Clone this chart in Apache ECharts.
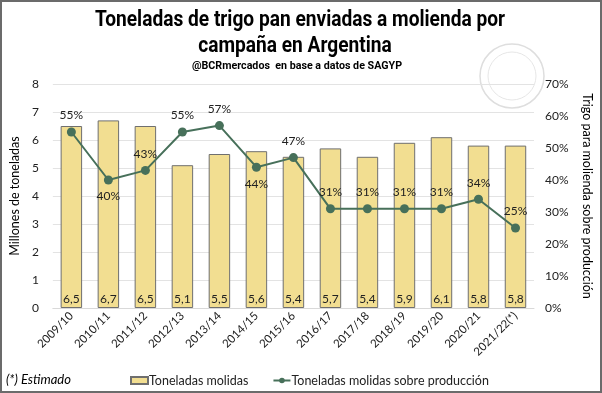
<!DOCTYPE html>
<html><head><meta charset="utf-8">
<script src="https://cdn.jsdelivr.net/npm/echarts@6/dist/echarts.min.js"></script>
<style>html,body{margin:0;padding:0;background:#fff}#c{width:602px;height:393px}</style>
</head><body><div id="c"></div>
<script>
const categories = ['2009/10','2010/11','2011/12','2012/13','2013/14','2014/15','2015/16','2016/17','2017/18','2018/19','2019/20','2020/21','2021/22(*)'];
const toneladas = [6.5,6.7,6.5,5.1,5.5,5.6,5.4,5.7,5.4,5.9,6.1,5.8,5.8];
const porcentaje = [55,40,43,55,57,44,47,31,31,31,31,34,25];
const labelBelow = [false,true,false,false,false,true,false,false,false,false,false,false,false];

const chart = echarts.init(document.getElementById('c'));
const font = 'Lato';
const tfont = 'Roboto';
chart.setOption({
  animation:false,
  graphic:[
    {type:'rect', shape:{x:1,y:1,width:600,height:391}, style:{fill:'none', stroke:'#6b6b6b', lineWidth:2}, z:100},
    {type:'circle', shape:{cx:512,cy:76,r:32}, style:{fill:'none', stroke:'#dedede', lineWidth:1.5}, z:-1},
    {type:'circle', shape:{cx:512,cy:76,r:24}, style:{fill:'none', stroke:'#e6e6e6', lineWidth:1}, z:-1},
    {type:'text', x:300, y:20, scaleX:0.87, style:{text:'Toneladas de trigo pan enviadas a molienda por', fontFamily:tfont, fontWeight:'bold', fontSize:22, fill:'#000', align:'center', verticalAlign:'middle'}},
    {type:'text', x:295, y:46, scaleX:0.87, style:{text:'campaña en Argentina', fontFamily:tfont, fontWeight:'bold', fontSize:22, fill:'#000', align:'center', verticalAlign:'middle'}},
    {type:'text', x:297, y:66, scaleX:0.93, style:{text:'@BCRmercados  en base a datos de SAGYP', fontFamily:tfont, fontWeight:'bold', fontSize:11.5, fill:'#000', align:'center', verticalAlign:'middle'}},
    {type:'text', x:6, y:380, style:{text:'(*) Estimado', fontFamily:font, fontStyle:'italic', fontSize:13, fill:'#000', verticalAlign:'middle'}}
  ],
  legend:{top:369, left:125, itemGap:24, itemWidth:17, itemHeight:7,
    textStyle:{fontFamily:font, fontSize:12.5, color:'#222', padding:[0,0,0,-4]},
    data:[{name:'Toneladas molidas', icon:'rect'},{name:'Toneladas molidas sobre producción'}]},
  grid:{left:44, right:60, top:84, bottom:85, containLabel:false},
  xAxis:{type:'category', data:categories,
    axisLine:{lineStyle:{color:'#d9d9d9'}}, axisTick:{show:false},
    axisLabel:{rotate:45, fontFamily:font, fontSize:11.5, color:'#222', margin:6, interval:0}},
  yAxis:[
    {type:'value', min:0, max:8, interval:1, name:'Millones de toneladas', nameLocation:'middle', nameGap:28,
     nameTextStyle:{fontFamily:font, fontSize:12.5, color:'#000'},
     axisLabel:{fontFamily:font, fontSize:12, color:'#222', margin:14},
     splitLine:{lineStyle:{color:'#e3e3e3'}}, axisLine:{show:false}, axisTick:{show:false}},
    {type:'value', min:0, max:70, interval:10, position:'right', name:'Trigo para molienda sobre producción', nameLocation:'middle', nameGap:47, nameRotate:-90,
     nameTextStyle:{fontFamily:font, fontSize:12.5, color:'#000'},
     axisLabel:{fontFamily:font, fontSize:12, color:'#222', margin:11, formatter:'{value}%'},
     splitLine:{show:false}, axisLine:{show:false}, axisTick:{show:false}}
  ],
  series:[
    {name:'Toneladas molidas', type:'bar', data:toneladas, barWidth:'58%',
     itemStyle:{color:'#F2DE91', borderColor:'#6f6f6f', borderWidth:1},
     label:{show:true, position:'insideBottom', distance:3, fontFamily:font, fontSize:12, color:'#222',
       formatter:p=>p.value.toFixed(1).replace('.',',')}},
    {name:'Toneladas molidas sobre producción', type:'line', yAxisIndex:1,
     data:porcentaje.map((v,i)=>({value:v, label:{position:labelBelow[i]?'bottom':'top'}})),
     symbol:'circle', symbolSize:9, lineStyle:{color:'#47705A', width:2}, itemStyle:{color:'#47705A'},
     label:{show:true, distance:6, fontFamily:font, fontSize:12, color:'#222', formatter:'{c}%'}}
  ]
});
</script></body></html>
